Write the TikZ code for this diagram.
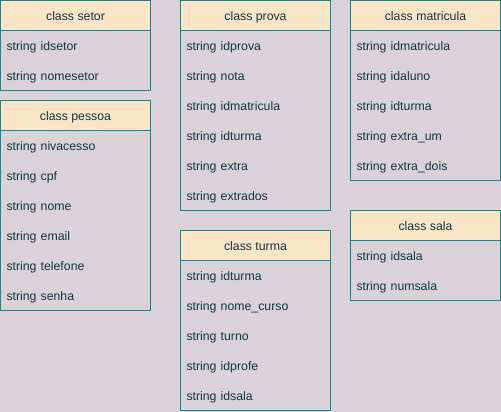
\documentclass[tikz,border=0pt]{standalone}
\usepackage{fontspec}
\setmainfont{Liberation Sans}
\usepackage{tikz}
\usetikzlibrary{positioning}
\definecolor{bgmauve}{HTML}{DAD2D8}
\definecolor{headfill}{HTML}{FAE5C7}
\definecolor{tealline}{HTML}{0F8B8D}
\definecolor{inktext}{HTML}{143642}
\tikzset{
    classhead/.style={rectangle, minimum width=150pt, minimum height=30pt, inner sep=0pt, outer sep=0pt, text height=10.5pt, text depth=1pt, text centered, draw=tealline, fill=headfill, text=inktext},
    field/.style={rectangle, text width=138pt, minimum height=30pt, inner xsep=6pt, inner ysep=0pt, outer sep=0pt, text height=10.5pt, text depth=1pt, align=left, text=inktext},
    classbody/.style={draw=tealline},
}

\begin{document}
\begin{tikzpicture}[x=1pt, y=1pt, line width=1pt, font=\fontsize{12.3}{14}\selectfont]
    \fill[bgmauve] (0,0) rectangle (501,-412);
    \useasboundingbox (0,0) rectangle (501,-412);
    % class setor
    \node[classhead] (setor) at (75.5,-15.5) {class setor};
    \node[field, below=0pt of setor] (setor1) {string idsetor};
    \node[field, below=0pt of setor1] (setor2) {string nomesetor};
    \draw[classbody] (setor.south west) rectangle (setor2.south east);
    % class pessoa
    \node[classhead] (pessoa) at (75.5,-115.5) {class pessoa};
    \node[field, below=0pt of pessoa] (pessoa1) {string nivacesso};
    \node[field, below=0pt of pessoa1] (pessoa2) {string cpf};
    \node[field, below=0pt of pessoa2] (pessoa3) {string nome};
    \node[field, below=0pt of pessoa3] (pessoa4) {string email};
    \node[field, below=0pt of pessoa4] (pessoa5) {string telefone};
    \node[field, below=0pt of pessoa5] (pessoa6) {string senha};
    \draw[classbody] (pessoa.south west) rectangle (pessoa6.south east);
    % class prova
    \node[classhead] (prova) at (255.5,-15.5) {class prova};
    \node[field, below=0pt of prova] (prova1) {string idprova};
    \node[field, below=0pt of prova1] (prova2) {string nota};
    \node[field, below=0pt of prova2] (prova3) {string idmatricula};
    \node[field, below=0pt of prova3] (prova4) {string idturma};
    \node[field, below=0pt of prova4] (prova5) {string extra};
    \node[field, below=0pt of prova5] (prova6) {string extrados};
    \draw[classbody] (prova.south west) rectangle (prova6.south east);
    % class turma
    \node[classhead] (turma) at (255.5,-245.5) {class turma};
    \node[field, below=0pt of turma] (turma1) {string idturma};
    \node[field, below=0pt of turma1] (turma2) {string nome\_curso};
    \node[field, below=0pt of turma2] (turma3) {string turno};
    \node[field, below=0pt of turma3] (turma4) {string idprofe};
    \node[field, below=0pt of turma4] (turma5) {string idsala};
    \draw[classbody] (turma.south west) rectangle (turma5.south east);
    % class matricula
    \node[classhead] (matricula) at (425.5,-15.5) {class matricula};
    \node[field, below=0pt of matricula] (matricula1) {string idmatricula};
    \node[field, below=0pt of matricula1] (matricula2) {string idaluno};
    \node[field, below=0pt of matricula2] (matricula3) {string idturma};
    \node[field, below=0pt of matricula3] (matricula4) {string extra\_um};
    \node[field, below=0pt of matricula4] (matricula5) {string extra\_dois};
    \draw[classbody] (matricula.south west) rectangle (matricula5.south east);
    % class sala
    \node[classhead] (sala) at (425.5,-225.5) {class sala};
    \node[field, below=0pt of sala] (sala1) {string idsala};
    \node[field, below=0pt of sala1] (sala2) {string numsala};
    \draw[classbody] (sala.south west) rectangle (sala2.south east);
\end{tikzpicture}
\end{document}
